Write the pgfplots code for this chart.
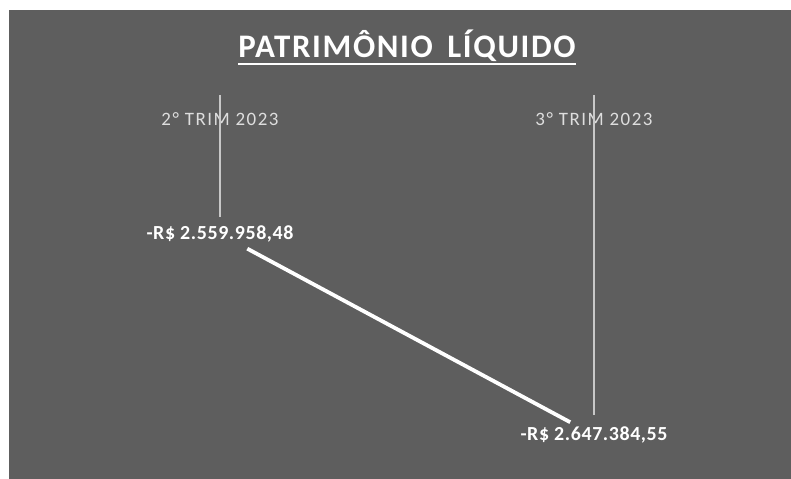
\documentclass[border=0pt]{standalone}
\usepackage{pgfplots}
\pgfplotsset{compat=1.18}
\usepackage{fontspec}
\setmainfont{Carlito}
\definecolor{bg}{RGB}{94,94,94}
\definecolor{cat}{RGB}{222,222,222}
\definecolor{drop}{RGB}{200,200,200}
\begin{document}
\begin{tikzpicture}
\begin{axis}[
  scale only axis, width=791bp, height=479bp,
  xmin=-0.58824, xmax=1.52674,
  ymin=-2666523, ymax=-2458178,
  hide axis, clip=false,
]
\path[use as bounding box] (axis description cs:0,0) rectangle (axis description cs:1,1);
\fill[white] (axis description cs:0,0) rectangle (axis description cs:1,1);
\fill[bg] (axis description cs:0.011378,0.979123) rectangle (axis description cs:1.01,-0.01);
% title
\node[inner sep=0pt, anchor=base, text=white, font=\fontsize{33}{35}\selectfont\bfseries\addfontfeatures{LetterSpace=5}] (t) at (axis description cs:0.5145,0.8789) {PATRIMÔNIO\, LÍQUIDO};
\draw[white, line width=2bp] ([yshift=-6bp]t.base west) -- ([yshift=-6bp]t.base east);
% category labels
\node[inner sep=0pt, anchor=base, text=cat, font=\fontsize{19}{21}\selectfont\addfontfeatures{LetterSpace=8}] at (axis cs:0,-2499499) [yshift=-31bp] {2° TRIM 2023};
\node[inner sep=0pt, anchor=base, text=cat, font=\fontsize{19}{21}\selectfont\addfontfeatures{LetterSpace=8}] at (axis cs:1,-2499499) [yshift=-31bp] {3° TRIM 2023};
% drop lines
\addplot[drop, line width=1.5bp] coordinates {(0,-2499499) (0,-2552564)};
\addplot[drop, line width=1.5bp] coordinates {(1,-2499499) (1,-2638685)};
% series
\addplot[white, line width=3.8bp, shorten <=31bp, shorten >=27bp,
  point meta=explicit symbolic,
  nodes near coords,
  nodes near coords style={anchor=center, inner sep=0pt, text=white, font=\fontsize{20}{22}\selectfont\bfseries\addfontfeatures{LetterSpace=3}}]
  coordinates {(0,-2559958.48) [{-R\$ 2.559.958,48}] (1,-2647384.55) [{-R\$ 2.647.384,55}]};
\end{axis}
\end{tikzpicture}
\end{document}
